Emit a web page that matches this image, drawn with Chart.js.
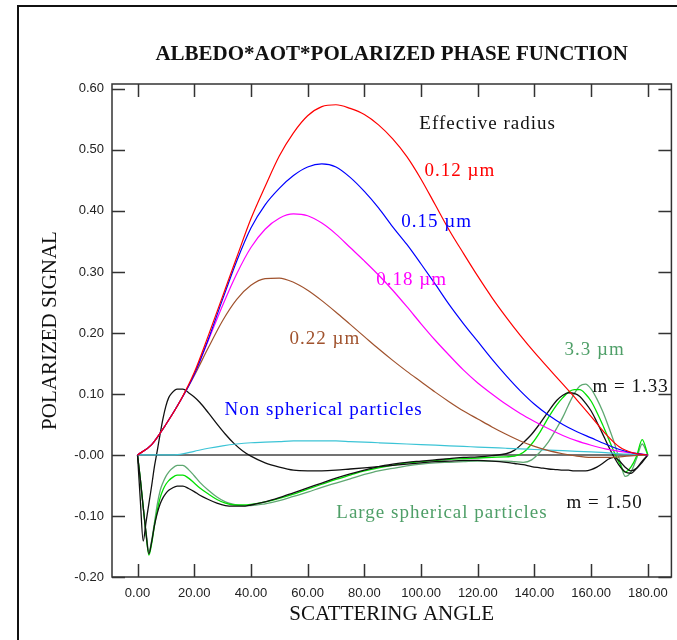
<!DOCTYPE html>
<html>
<head>
<meta charset="utf-8">
<script src="https://cdn.jsdelivr.net/npm/chart.js@4.4.0/dist/chart.umd.min.js"></script>
<style>
  html, body { margin: 0; padding: 0; background: #fff; }
  #wrap { width: 677px; height: 640px; }
</style>
</head>
<body>
<div id="wrap"><canvas id="phaseChart" width="677" height="640"></canvas></div>
<script>
// scattering angle grids (degrees)
const angS = [0, 5, 10, 15, 20, 25, 30, 35, 40, 45, 50, 55, 60, 65, 70, 75, 80, 85, 90,
              95, 100, 105, 110, 115, 120, 125, 130, 135, 140, 145, 150, 155, 160, 165, 170, 175, 180];
const angL = [0, 1, 2, 3, 4, 5, 6, 7, 8, 9, 10, 11, 12, 14, 16, 18, 20, 22, 25, 28, 31, 34, 37, 40,
              45, 50, 55, 60, 65, 70, 75, 80, 85, 90, 95, 100, 105, 110, 115, 120, 125, 130,
              133, 136, 139, 142, 145, 148, 150, 152, 154, 156, 158, 160, 162, 164, 166, 168,
              170, 172, 174, 176, 178, 180];

// small particles, effective radius (on angS)
const r012 = [0, 0.017, 0.05, 0.088, 0.135, 0.196, 0.26, 0.324, 0.387, 0.44, 0.49, 0.528, 0.556, 0.571, 0.574,
              0.568, 0.558, 0.541, 0.518, 0.489, 0.452, 0.41, 0.368, 0.33, 0.293, 0.258, 0.226, 0.196, 0.168,
              0.142, 0.116, 0.09, 0.063, 0.035, 0.013, 0.003, 0];
const r015 = [0, 0.017, 0.05, 0.088, 0.132, 0.19, 0.255, 0.318, 0.372, 0.41, 0.437, 0.458, 0.472, 0.477, 0.472,
              0.455, 0.432, 0.405, 0.374, 0.345, 0.313, 0.28, 0.246, 0.215, 0.186, 0.157, 0.13, 0.105, 0.083,
              0.065, 0.05, 0.038, 0.028, 0.018, 0.009, 0.003, 0];
const r018 = [0, 0.017, 0.05, 0.088, 0.132, 0.188, 0.245, 0.297, 0.34, 0.37, 0.388, 0.395, 0.392, 0.38, 0.362,
              0.34, 0.318, 0.295, 0.27, 0.243, 0.215, 0.188, 0.163, 0.139, 0.118, 0.1, 0.083, 0.068, 0.055,
              0.043, 0.032, 0.023, 0.016, 0.01, 0.006, 0.003, 0];
const r022 = [0, 0.017, 0.05, 0.088, 0.13, 0.176, 0.22, 0.255, 0.278, 0.289, 0.29, 0.283, 0.27, 0.253, 0.234,
              0.214, 0.194, 0.174, 0.155, 0.137, 0.12, 0.103, 0.087, 0.072, 0.059, 0.046, 0.034, 0.023, 0.014,
              0.007, 0.002, -0.002, -0.004, -0.004, -0.003, -0.001, 0];
const nonSph = [0, 0, 0, 0.001, 0.006, 0.011, 0.015, 0.018, 0.02, 0.021, 0.022, 0.023, 0.023, 0.023, 0.023,
                0.022, 0.021, 0.02, 0.019, 0.018, 0.017, 0.016, 0.015, 0.014, 0.013, 0.012, 0.011, 0.01, 0.009,
                0.008, 0.007, 0.006, 0.005, 0.004, 0.002, 0.001, 0];

// large spherical particles (on angL)
const m150 = [0, -0.075, -0.141, -0.11, -0.08, -0.05, -0.018, 0.008, 0.035, 0.06, 0.08, 0.094, 0.101,
              0.108, 0.108, 0.102, 0.095, 0.086, 0.069, 0.051, 0.034, 0.019, 0.007, -0.002,
              -0.013, -0.02, -0.025, -0.026, -0.026, -0.025, -0.023, -0.021, -0.019, -0.017, -0.015, -0.013,
              -0.011, -0.01, -0.009, -0.009, -0.01, -0.012,
              -0.014, -0.016, -0.019, -0.021, -0.023, -0.024, -0.025, -0.025, -0.026, -0.026, -0.026, -0.024,
              -0.02, -0.014, -0.007, -0.004, -0.01, -0.02, -0.026, -0.022, -0.012, 0];
const m133 = [0, -0.04, -0.085, -0.128, -0.162, -0.142, -0.115, -0.095, -0.08, -0.07, -0.063, -0.058, -0.055,
              -0.051, -0.051, -0.055, -0.06, -0.066, -0.073, -0.079, -0.083, -0.084, -0.084, -0.082,
              -0.077, -0.07, -0.062, -0.054, -0.046, -0.038, -0.031, -0.025, -0.019, -0.015, -0.012, -0.01,
              -0.008, -0.006, -0.004, -0.003, -0.001, 0.002,
              0.008, 0.02, 0.034, 0.052, 0.072, 0.09, 0.098, 0.102, 0.101, 0.096, 0.085, 0.072,
              0.054, 0.035, 0.015, -0.003, -0.018, -0.028, -0.03, -0.022, -0.01, 0];
const m133g = [0, -0.04, -0.085, -0.13, -0.164, -0.145, -0.115, -0.09, -0.07, -0.057, -0.048, -0.042, -0.038,
               -0.033, -0.033, -0.038, -0.046, -0.054, -0.064, -0.073, -0.079, -0.082, -0.082, -0.081,
               -0.077, -0.071, -0.064, -0.056, -0.048, -0.04, -0.033, -0.026, -0.021, -0.017, -0.013, -0.011,
               -0.009, -0.007, -0.006, -0.005, -0.004, -0.003,
               -0.002, 0.004, 0.018, 0.038, 0.062, 0.083, 0.094, 0.103, 0.107, 0.107, 0.1, 0.088,
               0.07, 0.05, 0.028, 0.006, -0.014, -0.028, -0.02, -0.002, 0.025, 0];
const r33 = [0, -0.04, -0.085, -0.125, -0.158, -0.14, -0.11, -0.08, -0.058, -0.045, -0.035, -0.028, -0.023,
             -0.017, -0.017, -0.024, -0.034, -0.045, -0.058, -0.069, -0.077, -0.081, -0.083, -0.083,
             -0.08, -0.075, -0.068, -0.061, -0.053, -0.046, -0.039, -0.032, -0.026, -0.022, -0.018, -0.015,
             -0.013, -0.012, -0.011, -0.01, -0.01, -0.01,
             -0.011, -0.012, -0.008, 0.005, 0.022, 0.045, 0.062, 0.082, 0.1, 0.113, 0.116, 0.108,
             0.092, 0.072, 0.048, 0.022, -0.008, -0.035, -0.028, -0.006, 0.018, 0];

// axes
const xTicks = [0, 20, 40, 60, 80, 100, 120, 140, 160, 180];
const xTickLabels = ['0.00', '20.00', '40.00', '60.00', '80.00', '100.00', '120.00', '140.00', '160.00', '180.00'];
const yTicks = [-0.2, -0.1, 0, 0.1, 0.2, 0.3, 0.4, 0.5, 0.6];
const yTickLabels = ['-0.20', '-0.10', '-0.00', '0.10', '0.20', '0.30', '0.40', '0.50', '0.60'];

// text notes placed in data units [angle, value]
const notes = [
  { text: 'Effective radius', at: [99.4, 0.543], color: '#111111' },
  { text: '0.12 \u00b5m', at: [101.2, 0.466], color: '#ff0000' },
  { text: '0.15 \u00b5m', at: [93.0, 0.382], color: '#0000ff' },
  { text: '0.18 \u00b5m', at: [84.2, 0.286], color: '#ff00ff' },
  { text: '0.22 \u00b5m', at: [53.6, 0.19], color: '#a0522d' },
  { text: 'Non spherical particles', at: [30.7, 0.074], color: '#0000ff' },
  { text: 'Large spherical particles', at: [70.1, -0.095], color: '#4f9f68' },
  { text: '3.3 \u00b5m', at: [150.6, 0.172], color: '#4f9f68' },
  { text: 'm = 1.33', at: [160.5, 0.111], color: '#111111' },
  { text: 'm = 1.50', at: [151.3, -0.078], color: '#111111' }
];

function pts(xs, ys) {
  return xs.map((x, i) => ({ x: x, y: ys[i] }));
}

function series(xs, ys, color, width) {
  return {
    data: pts(xs, ys),
    borderColor: color,
    borderWidth: width || 1.2,
    pointRadius: 0,
    fill: false,
    cubicInterpolationMode: 'monotone'
  };
}

const frame = {
  id: 'frame',
  afterDraw(chart) {
    const { ctx, chartArea: a, scales: { x, y } } = chart;
    ctx.save();
    // outer box of the figure
    ctx.strokeStyle = '#111';
    ctx.lineWidth = 2;
    ctx.strokeRect(18, 6, 700, 700);
    // plot box
    ctx.strokeStyle = '#333';
    ctx.lineWidth = 1.5;
    ctx.strokeRect(a.left, a.top, a.right - a.left, a.bottom - a.top);
    // inward ticks on all four sides
    const tl = 13;
    ctx.beginPath();
    xTicks.forEach(v => {
      const px = Math.round(x.getPixelForValue(v)) + 0.5;
      ctx.moveTo(px, a.bottom); ctx.lineTo(px, a.bottom - tl);
      ctx.moveTo(px, a.top); ctx.lineTo(px, a.top + tl);
    });
    yTicks.forEach(v => {
      const py = Math.round(y.getPixelForValue(v)) + 0.5;
      ctx.moveTo(a.left, py); ctx.lineTo(a.left + tl, py);
      ctx.moveTo(a.right, py); ctx.lineTo(a.right - tl, py);
    });
    ctx.stroke();
    // notes
    ctx.font = '19px "Liberation Serif", serif';
    ctx.textBaseline = 'middle';
    ctx.textAlign = 'left';
    if ('letterSpacing' in ctx) ctx.letterSpacing = '1px';
    notes.forEach(n => {
      ctx.fillStyle = n.color;
      ctx.fillText(n.text, x.getPixelForValue(n.at[0]), y.getPixelForValue(n.at[1]));
    });
    ctx.restore();
  }
};

const ctx1 = document.getElementById('phaseChart').getContext('2d');
new Chart(ctx1, {
  type: 'line',
  data: {
    datasets: [
      series(angS, r012, '#ff0000'),
      series(angS, r015, '#0000ff'),
      series(angS, r018, '#ff00ff'),
      series(angS, r022, '#a0522d'),
      series(angS, nonSph, '#3cc4d6'),
      series(angL, m150, '#111111', 1.3),
      series(angL, m133, '#111111', 1.3),
      series(angL, m133g, '#00e000', 1.3),
      series(angL, r33, '#5fa872', 1.3),
      series([0, 180], [0, 0], '#444444', 1.5)
    ]
  },
  options: {
    responsive: false,
    animation: false,
    devicePixelRatio: 1,
    layout: { padding: { left: 0, right: 4, top: 0, bottom: 0 } },
    plugins: {
      legend: { display: false },
      tooltip: { enabled: false },
      title: {
        display: true,
        text: 'ALBEDO*AOT*POLARIZED PHASE FUNCTION',
        fullSize: false,
        color: '#111',
        font: { family: '"Liberation Serif", serif', size: 21, weight: 'bold' },
        padding: { top: 42, bottom: 16.8 }
      }
    },
    scales: {
      x: {
        type: 'linear',
        min: -9,
        max: 188.3,
        afterBuildTicks: s => { s.ticks = xTicks.map(v => ({ value: v })); },
        afterFit: s => { s.height = 63; },
        grid: { display: false, drawTicks: false },
        border: { display: false },
        ticks: {
          autoSkip: false,
          maxRotation: 0,
          padding: 9,
          color: '#222',
          font: { family: '"Liberation Sans", sans-serif', size: 13 },
          callback: (v, i) => xTickLabels[i]
        },
        title: {
          display: true,
          text: 'SCATTERING ANGLE',
          color: '#111',
          font: { family: '"Liberation Serif", serif', size: 21 },
          padding: { top: 0, bottom: 13 }
        }
      },
      y: {
        type: 'linear',
        min: -0.2,
        max: 0.608,
        afterBuildTicks: s => { s.ticks = yTicks.map(v => ({ value: v })); },
        afterFit: s => { s.width = 112; },
        grid: { display: false, drawTicks: false },
        border: { display: false },
        ticks: {
          padding: 8,
          color: '#222',
          font: { family: '"Liberation Sans", sans-serif', size: 13 },
          callback: (v, i) => yTickLabels[i]
        },
        title: {
          display: true,
          text: 'POLARIZED SIGNAL',
          color: '#111',
          font: { family: '"Liberation Serif", serif', size: 21 },
          padding: { top: 38, bottom: 0 }
        }
      }
    }
  },
  plugins: [frame]
});
</script>
</body>
</html>
